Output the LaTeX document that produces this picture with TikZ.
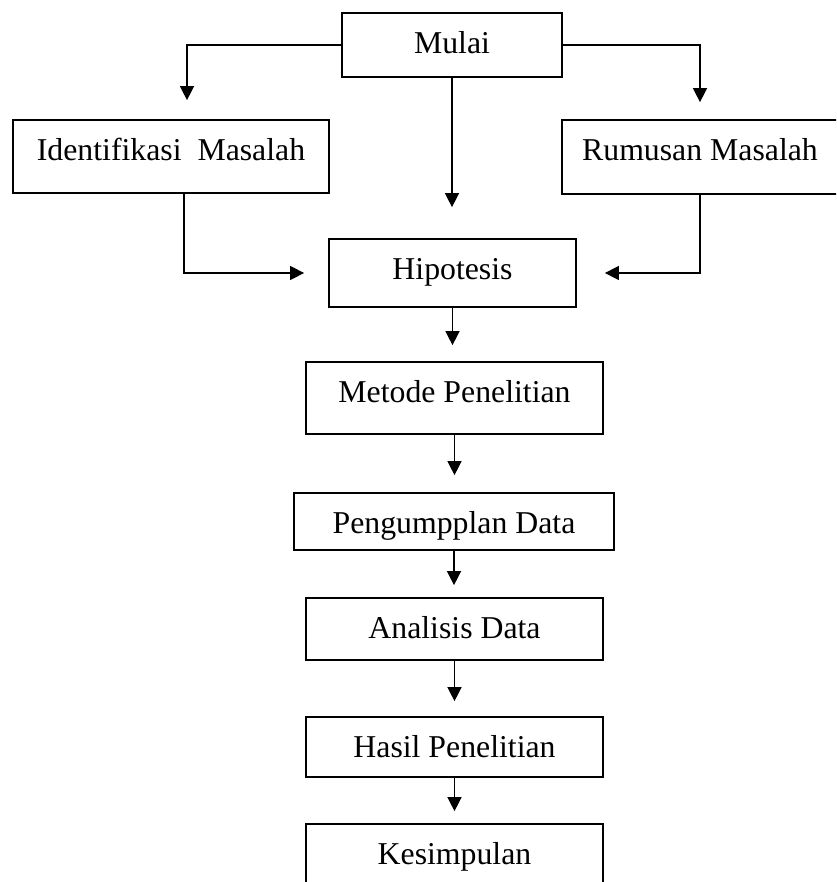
\documentclass[tikz,border=0pt]{standalone}
\usepackage{fontspec}
\setmainfont{Liberation Serif}
\usetikzlibrary{arrows.meta}
\begin{document}
\begin{tikzpicture}[x=0.025cm,y=-0.025cm,
        kotak/.style={draw,line width=1.2pt,inner sep=0pt,text height=1cm,
            font=\fontsize{22.6}{27}\selectfont},
        panah/.style={line width=1pt,-{Triangle[length=10pt,width=10pt]}}]
    \clip (0,0) rectangle (836,882);

    \node[kotak,minimum width=5.5cm,text depth=0.6cm] (mulai) at (452,45) {Mulai};
    \node[kotak,minimum width=7.9cm,text depth=0.825cm] (identi) at (171,156.5) {Identifikasi\ \ Masalah};
    \node[kotak,minimum width=6.9cm,text depth=0.85cm] (rumusan) at (700,157) {Rumusan Masalah};
    \node[kotak,minimum width=6.175cm,text depth=0.7cm] (hipotesis) at (452.5,273) {Hipotesis};
    \node[kotak,minimum width=7.425cm,text depth=0.8cm] (metode) at (454.5,398) {Metode Penelitian};
    \node[kotak,minimum width=8cm,text depth=0.425cm] (kumpul) at (454,521.5) {Pengumpplan Data};
    \node[kotak,minimum width=7.425cm,text depth=0.55cm] (analisis) at (454.5,629) {Analisis Data};
    \node[kotak,minimum width=7.425cm,text depth=0.5cm] (hasil) at (454.5,747) {Hasil Penelitian};
    \node[kotak,minimum width=7.425cm,text depth=0.55cm] (simpul) at (454.5,855) {Kesimpulan};

    \draw[panah,shorten >=0.475cm] (mulai.west) -| ([xshift=0.4cm]identi.north);
    \draw[panah,shorten >=0.425cm] (mulai.east) -| (rumusan.north);
    \draw[panah,shorten >=0.775cm] (mulai.south) -- (mulai.south |- hipotesis.north);
    \draw[panah,shorten >=0.6cm] ([xshift=0.325cm]identi.south) |- (hipotesis.west);
    \draw[panah,shorten >=0.7cm] (rumusan.south) |- (hipotesis.east);

    \draw[panah,shorten >=0.4cm] (hipotesis.south) -- (hipotesis.south |- metode.north);
    \draw[panah,shorten >=0.425cm] (metode.south) -- (metode.south |- kumpul.north);
    \draw[panah,shorten >=0.3cm] (kumpul.south) -- (kumpul.south |- analisis.north);
    \draw[panah,shorten >=0.375cm] (analisis.south) -- (analisis.south |- hasil.north);
    \draw[panah,shorten >=0.3cm] (hasil.south) -- (hasil.south |- simpul.north);
\end{tikzpicture}
\end{document}
